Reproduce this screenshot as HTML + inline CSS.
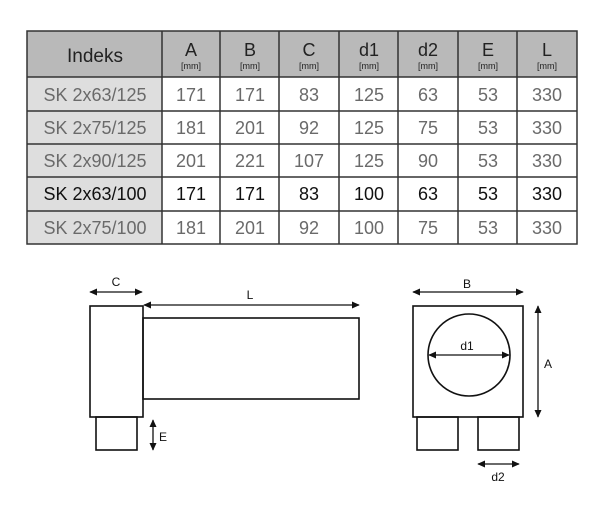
<!DOCTYPE html>
<html><head><meta charset="utf-8"><style>
html,body{margin:0;padding:0;background:#fff;}
svg{display:block;font-family:"Liberation Sans",sans-serif;}
</style></head><body>
<svg width="613" height="527" viewBox="0 0 613 527" xmlns="http://www.w3.org/2000/svg">
<defs>
<marker id="ar" viewBox="0 0 10 10" refX="9" refY="5" markerWidth="8" markerHeight="8" markerUnits="userSpaceOnUse" orient="auto-start-reverse"><path d="M0,0.5 L10,5 L0,9.5 z" fill="#111"/></marker>
</defs>
<rect x="27" y="31" width="550" height="46" fill="#b9b9b9"/>
<rect x="27" y="77" width="135" height="167" fill="#dedede"/>
<g stroke="#333" stroke-width="1.5" fill="none">
<rect x="27" y="31" width="550" height="213"/>
<line x1="27" y1="77" x2="577" y2="77"/>
<line x1="27" y1="111" x2="577" y2="111"/>
<line x1="27" y1="144" x2="577" y2="144"/>
<line x1="27" y1="177" x2="577" y2="177"/>
<line x1="27" y1="211" x2="577" y2="211"/>
<line x1="162" y1="31" x2="162" y2="244"/>
<line x1="220" y1="31" x2="220" y2="244"/>
<line x1="279" y1="31" x2="279" y2="244"/>
<line x1="339" y1="31" x2="339" y2="244"/>
<line x1="398" y1="31" x2="398" y2="244"/>
<line x1="458" y1="31" x2="458" y2="244"/>
<line x1="517" y1="31" x2="517" y2="244"/>
</g>
<g text-anchor="middle" fill="#222">
<text x="95" y="62" font-size="19">Indeks</text>
<g font-size="18"><text x="191" y="56">A</text><text x="250" y="56">B</text><text x="309" y="56">C</text><text x="369" y="56">d1</text><text x="428" y="56">d2</text><text x="488" y="56">E</text><text x="547" y="56">L</text></g>
<g font-size="9"><text x="191" y="69">[mm]</text><text x="250" y="69">[mm]</text><text x="309" y="69">[mm]</text><text x="369" y="69">[mm]</text><text x="428" y="69">[mm]</text><text x="488" y="69">[mm]</text><text x="547" y="69">[mm]</text></g>
</g>
<g font-size="18" text-anchor="middle" fill="#6a6a6a">
<g><text x="95" y="101">SK 2x63/125</text><text x="191" y="101">171</text><text x="250" y="101">171</text><text x="309" y="101">83</text><text x="369" y="101">125</text><text x="428" y="101">63</text><text x="488" y="101">53</text><text x="547" y="101">330</text></g>
<g><text x="95" y="134">SK 2x75/125</text><text x="191" y="134">181</text><text x="250" y="134">201</text><text x="309" y="134">92</text><text x="369" y="134">125</text><text x="428" y="134">75</text><text x="488" y="134">53</text><text x="547" y="134">330</text></g>
<g><text x="95" y="167">SK 2x90/125</text><text x="191" y="167">201</text><text x="250" y="167">221</text><text x="309" y="167">107</text><text x="369" y="167">125</text><text x="428" y="167">90</text><text x="488" y="167">53</text><text x="547" y="167">330</text></g>
<g fill="#111"><text x="95" y="200">SK 2x63/100</text><text x="191" y="200">171</text><text x="250" y="200">171</text><text x="309" y="200">83</text><text x="369" y="200">100</text><text x="428" y="200">63</text><text x="488" y="200">53</text><text x="547" y="200">330</text></g>
<g><text x="95" y="234">SK 2x75/100</text><text x="191" y="234">181</text><text x="250" y="234">201</text><text x="309" y="234">92</text><text x="369" y="234">100</text><text x="428" y="234">75</text><text x="488" y="234">53</text><text x="547" y="234">330</text></g>
</g>
<g stroke="#111" stroke-width="1.6" fill="none">
<rect x="90" y="306" width="53" height="111"/>
<rect x="143" y="318" width="216" height="81"/>
<rect x="96" y="417" width="41" height="33"/>
<rect x="413" y="306" width="110" height="111"/>
<circle cx="469" cy="355" r="41"/>
<rect x="417" y="417" width="41" height="33"/>
<rect x="478" y="417" width="41" height="33"/>
</g>
<g stroke="#111" stroke-width="1.3" marker-start="url(#ar)" marker-end="url(#ar)">
<line x1="90" y1="292" x2="142" y2="292"/>
<line x1="144" y1="305" x2="359" y2="305"/>
<line x1="153" y1="420" x2="153" y2="450"/>
<line x1="413" y1="292" x2="523" y2="292"/>
<line x1="429" y1="355" x2="509" y2="355"/>
<line x1="538" y1="306" x2="538" y2="417"/>
<line x1="478" y1="464" x2="519" y2="464"/>
</g>
<g font-size="12" fill="#111" text-anchor="middle">
<text x="116" y="286">C</text>
<text x="250" y="299">L</text>
<text x="163" y="441">E</text>
<text x="467" y="288">B</text>
<text x="467" y="350">d1</text>
<text x="548" y="368">A</text>
<text x="498" y="481">d2</text>
</g>
</svg>
</body></html>
